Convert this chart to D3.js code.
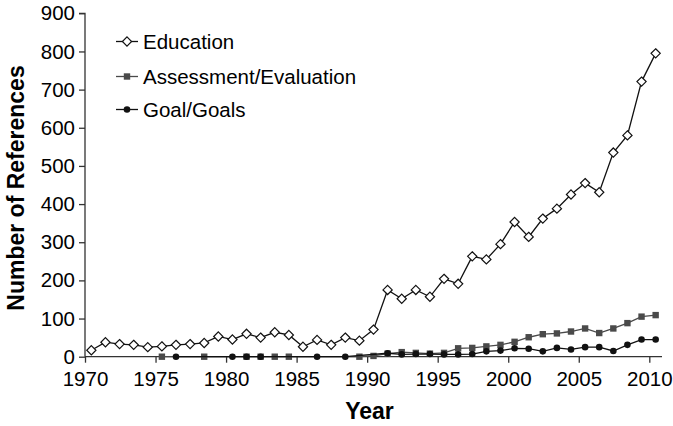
<!DOCTYPE html>
<html>
<head>
<meta charset="utf-8">
<script src="https://cdn.jsdelivr.net/npm/d3@7"></script>
<style>
  html, body { margin: 0; padding: 0; background: #fff; }
  svg { display: block; font-family: "Liberation Sans", Arial, sans-serif; }
</style>
</head>
<body>
<svg id="chart" width="673" height="426"></svg>
<script>
// ---- data ----
const educationYears = [1970,1971,1972,1973,1974,1975,1976,1977,1978,1979,1980,1981,1982,1983,1984,1985,1986,1987,1988,1989,1990,1991,1992,1993,1994,1995,1996,1997,1998,1999,2000,2001,2002,2003,2004,2005,2006,2007,2008,2009,2010];
const educationValues = [17,38,33,31,25,27,31,33,36,53,45,60,50,64,57,26,44,31,50,42,71,175,152,175,157,204,191,263,255,295,353,314,362,388,425,455,431,535,580,721,795];

const assessmentYears = [1975,1978,1981,1982,1983,1984,1989,1990,1991,1992,1993,1994,1995,1996,1997,1998,1999,2000,2001,2002,2003,2004,2005,2006,2007,2008,2009,2010];
const assessmentValues = [0,0,0,0,0,0,0,2,8,12,10,8,10,22,23,27,31,39,51,59,61,66,74,62,74,88,105,109];

const goalYears = [1976,1980,1981,1982,1986,1988,1991,1992,1993,1994,1995,1996,1997,1998,1999,2000,2001,2002,2003,2004,2005,2006,2007,2008,2009,2010];
const goalValues = [0,0,0,0,0,0,9,6,7,7,6,6,7,14,16,22,21,14,23,19,25,25,15,31,45,45];

const seriesNames = ["Education", "Assessment/Evaluation", "Goal/Goals"];
const xTickValues = [1970,1975,1980,1985,1990,1995,2000,2005,2010];
const yTickValues = [0,100,200,300,400,500,600,700,800,900];
const xAxisTitle = "Year";
const yAxisTitle = "Number of References";

// ---- layout ----
const svg = d3.select("#chart");
const plot = { left: 85, right: 662, top: 13.3, bottom: 356.7 };
const pointOffset = 0.45; // points sit inside each year's slot

const x = d3.scaleLinear().domain([1970, 2010.9]).range([plot.left, plot.right]);
const y = d3.scaleLinear().domain([0, 900]).range([plot.bottom, plot.top]);

const axisColor = "#333";

// y axis
const yAxisG = svg.append("g")
  .attr("transform", `translate(${plot.left},0)`)
  .call(d3.axisLeft(y).tickValues(yTickValues).tickSize(6).tickPadding(4).tickFormat(d3.format("d")));
yAxisG.select(".domain").attr("stroke", axisColor).attr("stroke-width", 1.3)
  .attr("d", `M-6,${y(900)}H0V${y(0)}`);
yAxisG.selectAll(".tick line").attr("stroke", axisColor).attr("stroke-width", 1.3);
yAxisG.selectAll(".tick text").attr("font-size", 20.5).attr("fill", "#000")
  .attr("font-family", "Liberation Sans, Arial, sans-serif");

// x axis
const xAxisG = svg.append("g")
  .attr("transform", `translate(0,${plot.bottom})`)
  .call(d3.axisBottom(x).tickValues(xTickValues).tickSize(6).tickPadding(9).tickFormat(d3.format("d")));
xAxisG.select(".domain").attr("stroke", axisColor).attr("stroke-width", 1.3)
  .attr("d", `M${plot.left},0H${plot.right}`);
xAxisG.selectAll(".tick line").attr("stroke", axisColor).attr("stroke-width", 1.3);
xAxisG.selectAll(".tick text").attr("font-size", 20.5).attr("fill", "#000")
  .attr("font-family", "Liberation Sans, Arial, sans-serif");

// titles
svg.append("text")
  .attr("x", (plot.left + plot.right) / 2 - 4)
  .attr("y", 419)
  .attr("text-anchor", "middle")
  .attr("font-size", 23)
  .attr("font-weight", "bold")
  .text(xAxisTitle);

svg.append("text")
  .attr("transform", `translate(24,188) rotate(-90)`)
  .attr("text-anchor", "middle")
  .attr("font-size", 23)
  .attr("font-weight", "bold")
  .text(yAxisTitle);

// series
function pts(years, values) {
  return years.map((yr, i) => ({ year: yr, value: values[i] }));
}
const lineGen = d3.line().x(d => x(d.year + pointOffset)).y(d => y(d.value));

const series = [
  { name: seriesNames[0], data: pts(educationYears, educationValues), color: "#111", marker: "diamond" },
  { name: seriesNames[1], data: pts(assessmentYears, assessmentValues), color: "#4a4a4a", marker: "square" },
  { name: seriesNames[2], data: pts(goalYears, goalValues), color: "#111", marker: "circle" }
];

function drawMarker(g, type, color) {
  if (type === "diamond") {
    g.append("path").attr("d", "M0,-4.6L4.6,0L0,4.6L-4.6,0Z")
      .attr("fill", "#fff").attr("stroke", color).attr("stroke-width", 1.2);
  } else if (type === "square") {
    g.append("rect").attr("x", -3.2).attr("y", -3.2).attr("width", 6.4).attr("height", 6.4)
      .attr("fill", color);
  } else {
    g.append("circle").attr("r", 3.3).attr("fill", color);
  }
}

series.forEach(s => {
  const g = svg.append("g");
  g.append("path").datum(s.data)
    .attr("d", lineGen)
    .attr("fill", "none")
    .attr("stroke", s.color)
    .attr("stroke-width", 1.3);
  s.data.forEach(d => {
    const mg = g.append("g").attr("transform", `translate(${x(d.year + pointOffset)},${y(d.value)})`);
    drawMarker(mg, s.marker, s.color);
  });
});

// legend
const legendRows = [41.5, 76.5, 109.5];
series.forEach((s, i) => {
  const lg = svg.append("g").attr("transform", `translate(116,${legendRows[i]})`);
  lg.append("line").attr("x1", 0).attr("x2", 22).attr("y1", 0).attr("y2", 0)
    .attr("stroke", s.color).attr("stroke-width", 1.3);
  const mg = lg.append("g").attr("transform", "translate(11,0)");
  drawMarker(mg, s.marker, s.color);
  lg.append("text").attr("x", 27).attr("y", 0).attr("dy", "0.35em")
    .attr("font-size", 20.5).attr("fill", "#000").text(s.name);
});
</script>
</body>
</html>
